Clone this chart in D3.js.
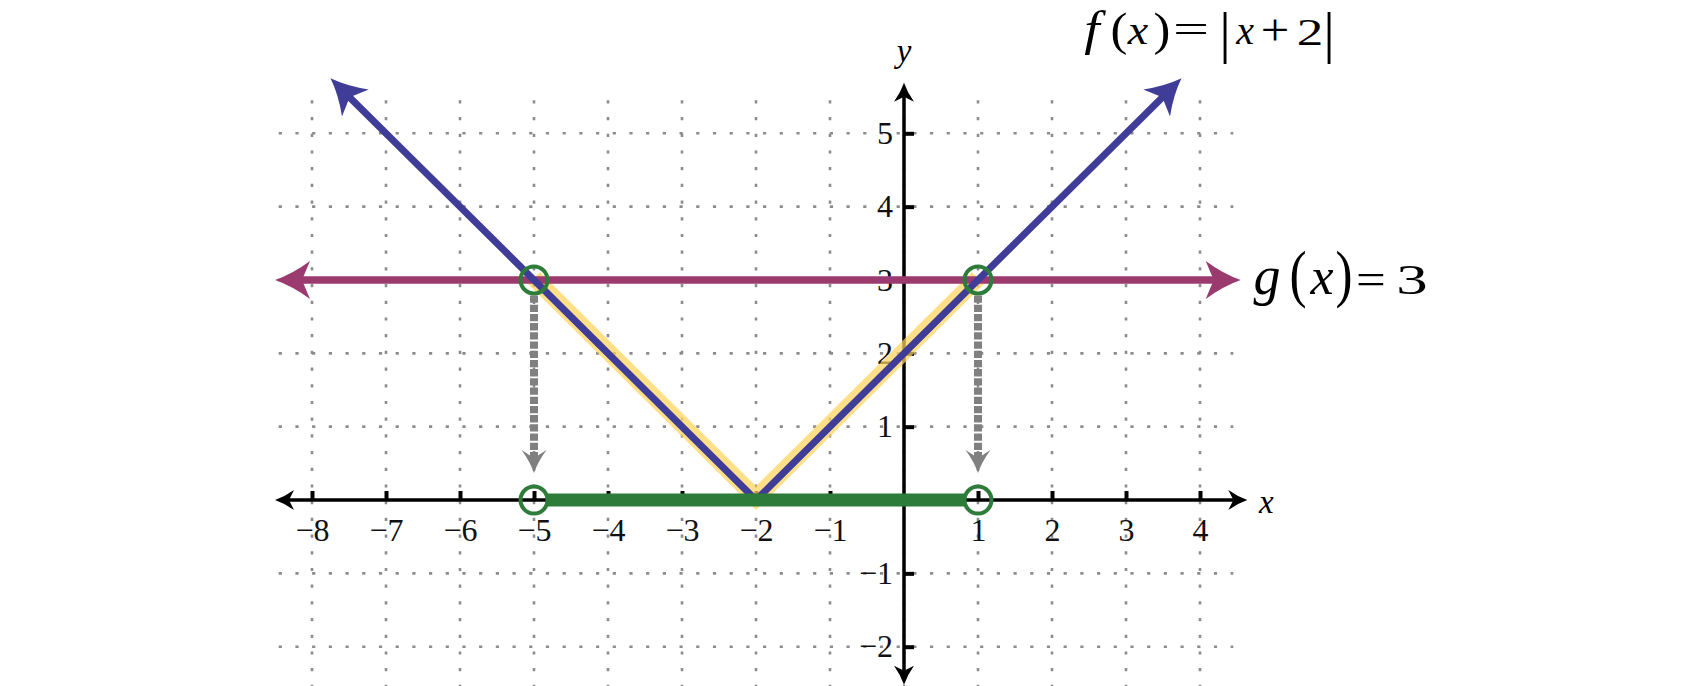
<!DOCTYPE html>
<html>
<head>
<meta charset="utf-8">
<title>f(x) = |x + 2| and g(x) = 3</title>
<script src="https://cdn.jsdelivr.net/npm/d3@7"></script>
<style>
  body { margin: 0; background: #fff; }
  svg { display: block; }
</style>
</head>
<body>
<svg id="chart" width="1700" height="686"></svg>
<script>
// |x + 2| = 3, solved on the graph

// values
var X_TICKS = [-8, -7, -6, -5, -4, -3, -2, -1, 1, 2, 3, 4];
var Y_TICKS = [-2, -1, 1, 2, 3, 4, 5];
var GRID_X = [-8, -7, -6, -5, -4, -3, -2, -1, 0, 1, 2, 3, 4];
var GRID_Y = [-2, -1, 1, 2, 3, 4, 5];
var GRID_X_EXTENT = [-8.45, 4.45];
var GRID_Y_EXTENT = [-2.7, 5.45];
var X_AXIS_EXTENT = [-8.5, 4.64];
var Y_AXIS_EXTENT = [-2.52, 5.69];

var F_POINTS = [[-7.75, 5.75], [-2, 0], [3.75, 5.75]];  // f(x) = |x + 2|
var G_VALUE = 3;
var G_EXTENT = [-8.5, 4.55];                              // g(x) = 3
var CROSSINGS = [-5, 1];                                  // f(x) = g(x)
var HIGHLIGHT = [[-5, 3], [-2, 0], [1, 3]];
var DROP_TO = 0.37;                                       // dashed arrows stop here

var BLUE = "#403d99", MAGENTA = "#9a3a6e", GREEN = "#2e7c39", GRAY = "#808080";
var SERIF = "'Liberation Serif', 'Times New Roman', serif";

var svg = d3.select("#chart");

var x = d3.scaleLinear().domain([-8, 4]).range([312, 1200]);
var y = d3.scaleLinear().domain([-2, 5]).range([646.7, 133.3]);

///////////////////////////////////////////////////////////////////////////////
// helpers

// stealth style head, tip at origin pointing along +x
function headPath(L, W, N) {
  return "M0,0Q" + (-L * 0.5) + "," + (W * 0.32) + " " + (-L) + "," + W +
         "L" + (-N) + ",0L" + (-L) + "," + (-W) +
         "Q" + (-L * 0.5) + "," + (-W * 0.32) + " 0,0Z";
}

function arrowHead(g, tip, angle, size, color) {
  g.append("path")
    .attr("d", headPath(size[0], size[1], size[2]))
    .attr("transform", "translate(" + tip[0] + "," + tip[1] + ") rotate(" + angle + ")")
    .attr("fill", color);
}

// point moved back from the tip by n pixels, towards "from"
function backOff(from, tip, n) {
  var dx = tip[0] - from[0], dy = tip[1] - from[1];
  var len = Math.sqrt(dx * dx + dy * dy);
  return [tip[0] - dx / len * n, tip[1] - dy / len * n];
}

function angleOf(from, tip) {
  return Math.atan2(tip[1] - from[1], tip[0] - from[0]) * 180 / Math.PI;
}

///////////////////////////////////////////////////////////////////////////////
// grid

var grid = svg.append("g")
  .attr("stroke", "#8c8c8c")
  .attr("stroke-width", 2.6)
  .attr("stroke-dasharray", "3.2 13.5");

grid.selectAll("line.v").data(GRID_X).join("line")
  .attr("class", "v")
  .attr("x1", function (d) { return x(d); })
  .attr("x2", function (d) { return x(d); })
  .attr("y1", y(GRID_Y_EXTENT[1]))
  .attr("y2", y(GRID_Y_EXTENT[0]));

grid.selectAll("line.h").data(GRID_Y).join("line")
  .attr("class", "h")
  .attr("y1", function (d) { return y(d); })
  .attr("y2", function (d) { return y(d); })
  .attr("x1", x(GRID_X_EXTENT[0]))
  .attr("x2", x(GRID_X_EXTENT[1]));

///////////////////////////////////////////////////////////////////////////////
// axes

var AXIS_HEAD = [19, 10, 14];
var axes = svg.append("g");

var xl = [x(X_AXIS_EXTENT[0]), y(0)], xr = [x(X_AXIS_EXTENT[1]), y(0)];
var yb = [x(0), y(Y_AXIS_EXTENT[0])], yt = [x(0), y(Y_AXIS_EXTENT[1])];

axes.append("line")
  .attr("x1", xl[0] + AXIS_HEAD[2]).attr("x2", xr[0] - AXIS_HEAD[2])
  .attr("y1", y(0)).attr("y2", y(0))
  .attr("stroke", "#000").attr("stroke-width", 3.5);
axes.append("line")
  .attr("y1", yt[1] + AXIS_HEAD[2]).attr("y2", yb[1] - AXIS_HEAD[2])
  .attr("x1", x(0)).attr("x2", x(0))
  .attr("stroke", "#000").attr("stroke-width", 3.5);

arrowHead(axes, xl, 180, AXIS_HEAD, "#000");
arrowHead(axes, xr, 0, AXIS_HEAD, "#000");
arrowHead(axes, yt, -90, AXIS_HEAD, "#000");
arrowHead(axes, yb, 90, AXIS_HEAD, "#000");

var fmt = d3.format("d");

var xAxis = axes.append("g")
  .attr("transform", "translate(0," + y(0) + ")")
  .call(d3.axisBottom(x).tickValues(X_TICKS).tickFormat(fmt)
    .tickSizeInner(-9).tickSizeOuter(0).tickPadding(18));

var yAxis = axes.append("g")
  .attr("transform", "translate(" + x(0) + ",0)")
  .call(d3.axisLeft(y).tickValues(Y_TICKS).tickFormat(fmt)
    .tickSizeInner(-10).tickSizeOuter(0).tickPadding(11));

[xAxis, yAxis].forEach(function (a) {
  a.select(".domain").remove();
  a.attr("font-family", null).attr("font-size", 32);
  a.selectAll("line").attr("stroke", "#000").attr("stroke-width", 4);
  a.selectAll("text").attr("fill", "#111").style("font-family", SERIF);
});

axes.append("text")
  .attr("x", 1259).attr("y", 513)
  .style("font-family", SERIF)
  .attr("font-size", 33).attr("font-style", "italic")
  .text("x");
axes.append("text")
  .attr("x", x(0)).attr("y", 62)
  .attr("text-anchor", "middle")
  .style("font-family", SERIF)
  .attr("font-size", 33).attr("font-style", "italic")
  .text("y");

///////////////////////////////////////////////////////////////////////////////
// curves

var line = d3.line()
  .x(function (d) { return x(d[0]); })
  .y(function (d) { return y(d[1]); });

// the part of f that lies below g
svg.append("path")
  .attr("d", line(HIGHLIGHT))
  .attr("transform", "translate(0,-2)")
  .attr("fill", "none")
  .attr("stroke", "#ffd45c")
  .attr("stroke-opacity", 0.72)
  .attr("stroke-width", 17)
  .attr("stroke-linejoin", "miter");

// g(x) = 3
var BIG_HEAD = [35, 19, 27];
var gl = [x(G_EXTENT[0]), y(G_VALUE)], gr = [x(G_EXTENT[1]), y(G_VALUE)];
svg.append("line")
  .attr("x1", gl[0] + BIG_HEAD[2] - 2).attr("x2", gr[0] - BIG_HEAD[2] + 2)
  .attr("y1", gl[1]).attr("y2", gr[1])
  .attr("stroke", MAGENTA).attr("stroke-width", 7.5);
arrowHead(svg, gl, 180, BIG_HEAD, MAGENTA);
arrowHead(svg, gr, 0, BIG_HEAD, MAGENTA);

// f(x) = |x + 2|
var fp = F_POINTS.map(function (d) { return [x(d[0]), y(d[1])]; });
var fStart = backOff(fp[1], fp[0], BIG_HEAD[2] - 2);
var fEnd = backOff(fp[1], fp[2], BIG_HEAD[2] - 2);
svg.append("path")
  .attr("d", "M" + fStart + "L" + fp[1] + "L" + fEnd)
  .attr("fill", "none")
  .attr("stroke", BLUE)
  .attr("stroke-width", 7)
  .attr("stroke-linejoin", "miter");
arrowHead(svg, fp[0], angleOf(fp[1], fp[0]), BIG_HEAD, BLUE);
arrowHead(svg, fp[2], angleOf(fp[1], fp[2]), BIG_HEAD, BLUE);

///////////////////////////////////////////////////////////////////////////////
// solution: drop lines, interval, open dots

var R = 13.5;
var DROP_HEAD = [23, 12.5, 15];

CROSSINGS.forEach(function (c) {
  var top = [x(c), y(G_VALUE) + R + 2];
  var tip = [x(c), y(DROP_TO)];
  svg.append("line")
    .attr("x1", top[0]).attr("x2", tip[0])
    .attr("y1", top[1]).attr("y2", tip[1] - DROP_HEAD[2] + 1)
    .attr("stroke", GRAY)
    .attr("stroke-width", 8)
    .attr("stroke-dasharray", "7.3 1.9");
  arrowHead(svg, tip, 90, DROP_HEAD, GRAY);
});

svg.append("line")
  .attr("x1", x(CROSSINGS[0]) + R).attr("x2", x(CROSSINGS[1]) - R)
  .attr("y1", y(0)).attr("y2", y(0))
  .attr("stroke", GREEN)
  .attr("stroke-width", 13);

var dots = [];
CROSSINGS.forEach(function (c) { dots.push([c, G_VALUE]); dots.push([c, 0]); });

svg.selectAll("circle.dot").data(dots).join("circle")
  .attr("class", "dot")
  .attr("cx", function (d) { return x(d[0]); })
  .attr("cy", function (d) { return y(d[1]); })
  .attr("r", R)
  .attr("fill", "none")
  .attr("stroke", GREEN)
  .attr("stroke-width", 4);

///////////////////////////////////////////////////////////////////////////////
// equation labels: the typeset original is wide, so each glyph gets its own
// centre, size and horizontal stretch
// [glyph, centre x, font size, stretch, italic, baseline]

function mathLabel(glyphs) {
  var g = svg.append("g").attr("class", "equation");
  glyphs.forEach(function (d) {
    g.append("text")
      .attr("transform", "translate(" + d[1] + "," + d[5] + ") scale(" + d[3] + ",1)")
      .attr("text-anchor", "middle")
      .attr("font-size", d[2])
      .attr("font-style", d[4] ? "italic" : null)
      .attr("fill", "#000")
      .style("font-family", SERIF)
      .text(d[0]);
  });
}

mathLabel([
  ["f", 1092, 48, 1.15, true, 45],
  ["(", 1119, 46, 1.1, false, 45],
  ["x", 1138, 40, 1.15, true, 44],
  [")", 1162, 46, 1.1, false, 45],
  ["=", 1191, 40, 1.6, false, 43],
  ["|", 1225, 58, 1, false, 52],
  ["x", 1245, 40, 1.0, true, 44],
  ["+", 1275, 44, 1.15, false, 45],
  ["2", 1310, 38, 1.4, false, 45],
  ["|", 1329, 58, 1, false, 52]
]);

mathLabel([
  ["g", 1267, 54, 1.0, true, 294],
  ["(", 1298, 64, 0.8, false, 295],
  ["x", 1322, 52, 1.0, true, 294],
  [")", 1344, 64, 0.8, false, 295],
  ["=", 1371, 44, 1.2, false, 294],
  ["3", 1412, 42, 1.5, false, 294]
]);
</script>
</body>
</html>
